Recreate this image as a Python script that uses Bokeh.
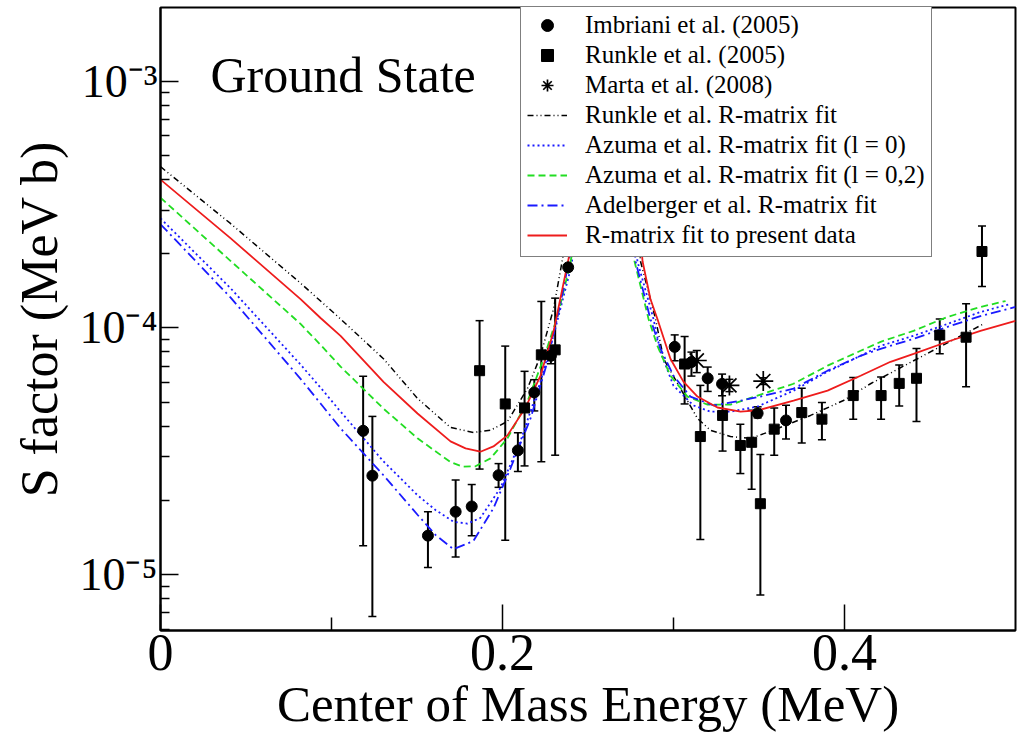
from bokeh.plotting import figure
from bokeh.models import (ColumnDataSource, Whisker, TeeHead, Label, Legend, LegendItem,
                          FixedTicker, CustomJSTickFormatter)
from bokeh.embed import file_html
from bokeh.resources import INLINE

# ---------------- data (energy in MeV, S factor in MeV b) ----------------
imb_e  = [0.1185, 0.1239, 0.1564, 0.1726, 0.1820, 0.1977, 0.2090, 0.2186, 0.2283, 0.2384,
          0.3007, 0.3105, 0.3200, 0.3284, 0.3492, 0.3658]
imb_s  = [3.83e-5, 2.52e-5, 1.44e-5, 1.80e-5, 1.89e-5, 2.53e-5, 3.19e-5, 5.48e-5, 7.71e-5, 1.76e-4,
          8.38e-5, 7.27e-5, 6.25e-5, 5.93e-5, 4.51e-5, 4.22e-5]
imb_lo = [1.31e-5, 6.78e-6, 1.07e-5, 1.18e-5, 1.44e-5, 2.26e-5, 2.62e-5, 4.61e-5, 7.16e-5, 1.70e-4,
          7.36e-5, 6.38e-5, 5.53e-5, 5.31e-5, 4.32e-5, 3.55e-5]
imb_hi = [6.37e-5, 4.38e-5, 1.80e-5, 2.42e-5, 2.32e-5, 2.82e-5, 3.76e-5, 6.17e-5, 8.23e-5, 1.82e-4,
          9.37e-5, 7.98e-5, 6.94e-5, 6.50e-5, 4.79e-5, 4.86e-5]

run_e  = [0.1866, 0.2016, 0.2129, 0.2227, 0.2308,
          0.3065, 0.3157, 0.3287, 0.3391, 0.3457, 0.3508, 0.3589, 0.3750, 0.3868, 0.4051,
          0.4214, 0.4320, 0.4421, 0.4557, 0.4711, 0.4804]
run_s  = [6.71e-5, 4.92e-5, 4.74e-5, 7.78e-5, 8.15e-5,
          7.14e-5, 3.63e-5, 4.42e-5, 3.34e-5, 3.44e-5, 1.94e-5, 3.89e-5, 4.54e-5, 4.27e-5, 5.32e-5,
          5.32e-5, 5.96e-5, 6.25e-5, 9.35e-5, 9.17e-5, 2.04e-4]
run_lo = [2.68e-5, 1.38e-5, 2.76e-5, 2.87e-5, 3.05e-5,
          4.92e-5, 1.39e-5, 3.17e-5, 2.57e-5, 2.22e-5, 8.28e-6, 3.05e-5, 3.42e-5, 3.52e-5, 4.27e-5,
          4.27e-5, 4.83e-5, 4.18e-5, 7.86e-5, 5.78e-5, 1.47e-4]
run_hi = [1.07e-4, 8.44e-5, 6.67e-5, 1.28e-4, 1.32e-4,
          9.23e-5, 5.85e-5, 5.89e-5, 4.07e-5, 4.64e-5, 3.07e-5, 4.74e-5, 5.69e-5, 4.99e-5, 6.29e-5,
          6.33e-5, 7.08e-5, 8.25e-5, 1.087e-4, 1.253e-4, 2.59e-4]

mar_e  = [0.3136, 0.3327, 0.3525]
mar_s  = [7.38e-5, 5.85e-5, 6.09e-5]
mar_lo = [6.59e-5, 5.52e-5, 5.90e-5]
mar_hi = [8.10e-5, 6.19e-5, 6.28e-5]

runfit_e = [0, 0.0409, 0.0819, 0.0936, 0.1053, 0.1304, 0.1503, 0.1696, 0.1830, 0.1930, 0.2029, 0.2146,
            0.2222, 0.2298, 0.2351, 0.2427, 0.26, 0.2807, 0.2895, 0.2942, 0.3041, 0.3140, 0.3216,
            0.3333, 0.3450, 0.3567, 0.3667, 0.3801, 0.3994, 0.4152, 0.4404, 0.4602, 0.4813]
runfit_s = [4.50e-4, 2.65e-4, 1.518e-4, 1.285e-4, 1.087e-4, 7.50e-5, 5.18e-5, 3.95e-5, 3.77e-5, 3.85e-5,
            4.18e-5, 5.68e-5, 7.71e-5, 1.19e-4, 1.90e-4, 4.0e-4, 1e-2, 1.862e-4, 1.087e-4, 7.50e-5,
            5.68e-5, 4.30e-5, 3.85e-5, 3.63e-5, 3.57e-5, 3.81e-5, 4.06e-5, 4.42e-5, 5.08e-5, 5.94e-5,
            7.36e-5, 8.70e-5, 1.038e-4]

az0_e = [0, 0.0409, 0.0819, 0.0936, 0.1053, 0.1304, 0.1503, 0.1608, 0.1713, 0.1795, 0.1871, 0.1988,
         0.2105, 0.2222, 0.2298, 0.2398, 0.2468, 0.26, 0.2789, 0.2883, 0.2924, 0.3000, 0.3117, 0.3216,
         0.3333, 0.3491, 0.3702, 0.3901, 0.4094, 0.4211, 0.4404, 0.4602, 0.4795, 0.4971]
az0_s = [2.78e-4, 1.45e-4, 7.10e-5, 5.73e-5, 4.58e-5, 2.88e-5, 2.10e-5, 1.83e-5, 1.64e-5, 1.61e-5,
         1.70e-5, 2.25e-5, 3.47e-5, 6.06e-5, 9.29e-5, 1.73e-4, 3.31e-4, 1e-2, 1.862e-4, 1.087e-4,
         8.00e-5, 5.83e-5, 4.85e-5, 4.58e-5, 4.58e-5, 4.80e-5, 5.57e-5, 6.65e-5, 7.71e-5, 8.46e-5,
         9.29e-5, 1.038e-4, 1.160e-4, 1.250e-4]

az02_e = [0, 0.0409, 0.0819, 0.0936, 0.1053, 0.1304, 0.1503, 0.1696, 0.1766, 0.1842, 0.1930, 0.2029,
          0.2146, 0.2240, 0.2322, 0.2398, 0.2468, 0.26, 0.2772, 0.2854, 0.2906, 0.2982, 0.3082, 0.3199,
          0.3333, 0.3509, 0.3702, 0.3901, 0.4094, 0.4211, 0.4404, 0.4602, 0.4795, 0.4942]
az02_s = [3.37e-4, 1.87e-4, 1.038e-4, 8.54e-5, 6.97e-5, 4.71e-5, 3.57e-5, 2.86e-5, 2.74e-5, 2.75e-5,
          2.96e-5, 3.57e-5, 5.04e-5, 7.50e-5, 1.117e-4, 1.845e-4, 3.63e-4, 1e-2, 1.862e-4, 1.087e-4,
          8.46e-5, 6.40e-5, 5.27e-5, 4.89e-5, 4.89e-5, 5.37e-5, 5.94e-5, 7.03e-5, 8.08e-5, 8.78e-5,
          9.73e-5, 1.108e-4, 1.216e-4, 1.285e-4]

adel_e = [0, 0.0409, 0.0819, 0.0936, 0.1053, 0.1304, 0.1503, 0.1608, 0.1713, 0.1830, 0.1947, 0.2047,
          0.2164, 0.2263, 0.2357, 0.2444, 0.26, 0.2778, 0.2865, 0.2924, 0.3000, 0.3099, 0.3234, 0.3374,
          0.3509, 0.3702, 0.3901, 0.4094, 0.4211, 0.4404, 0.4602, 0.4795, 0.5]
adel_s = [2.63e-4, 1.33e-4, 6.22e-5, 4.94e-5, 3.92e-5, 2.53e-5, 1.75e-5, 1.45e-5, 1.27e-5, 1.37e-5,
          1.86e-5, 2.70e-5, 4.30e-5, 7.30e-5, 1.44e-4, 3.02e-4, 1e-2, 1.862e-4, 1.087e-4, 8.23e-5,
          6.40e-5, 5.27e-5, 4.85e-5, 5.04e-5, 5.27e-5, 5.68e-5, 6.71e-5, 7.71e-5, 8.23e-5, 9.03e-5,
          1.009e-4, 1.117e-4, 1.216e-4]

pres_e = [0, 0.0409, 0.0819, 0.0936, 0.1053, 0.1304, 0.1503, 0.1696, 0.1784, 0.1871, 0.1947, 0.2029,
          0.2135, 0.2222, 0.2298, 0.2386, 0.2456, 0.26, 0.2819, 0.2865, 0.2906, 0.2982, 0.3058, 0.3140,
          0.3257, 0.3392, 0.3491, 0.3702, 0.3901, 0.4094, 0.4269, 0.4404, 0.4602, 0.4795, 0.5]
pres_s = [3.99e-4, 2.31e-4, 1.309e-4, 1.097e-4, 9.29e-5, 6.05e-5, 4.50e-5, 3.47e-5, 3.25e-5, 3.15e-5,
          3.31e-5, 3.67e-5, 4.76e-5, 6.40e-5, 9.64e-5, 1.90e-4, 3.63e-4, 1e-2, 1.862e-4, 1.309e-4,
          1.087e-4, 7.50e-5, 6.06e-5, 5.27e-5, 4.76e-5, 4.58e-5, 4.63e-5, 5.08e-5, 5.57e-5, 6.40e-5,
          7.29e-5, 7.85e-5, 8.79e-5, 9.73e-5, 1.067e-4]

x_major = [0, 0.2, 0.4]
x_minor = [0.1, 0.3]
y_major = [1e-5, 1e-4, 1e-3]
y_minor = [6e-6, 7e-6, 8e-6, 9e-6] + [k * 1e-5 for k in range(2, 10)] + [k * 1e-4 for k in range(2, 10)]

SERIF = "Liberation Serif"

# ---------------- figure ----------------
p = figure(width=1019, height=734, x_range=(0, 0.5), y_range=(5.944e-6, 1.987e-3),
           y_axis_type="log", output_backend="svg", toolbar_location=None,
           min_border_left=160, min_border_right=4, min_border_top=7, min_border_bottom=101,
           background_fill_color="white", border_fill_color="white")
p.grid.visible = False
p.outline_line_color = "black"
p.outline_line_width = 2
p.outline_line_alpha = 1

xa = p.xaxis[0]
xa.ticker = FixedTicker(ticks=x_major, minor_ticks=x_minor)
xa.formatter = CustomJSTickFormatter(code="return tick == 0 ? '0' : tick.toFixed(1);")
xa.major_tick_in = 26
xa.major_tick_out = 0
xa.minor_tick_in = 13
xa.minor_tick_out = 0
xa.axis_line_width = 2
xa.major_tick_line_width = 1.5
xa.minor_tick_line_width = 1.5
xa.major_label_text_font = SERIF
xa.major_label_text_font_size = "52px"
xa.major_label_text_color = "black"
xa.major_label_standoff = 4
xa.axis_label = "Center of Mass Energy (MeV)"
xa.axis_label_text_font = SERIF
xa.axis_label_text_font_size = "51px"
xa.axis_label_text_font_style = "normal"
xa.axis_label_text_color = "black"
xa.axis_label_standoff = 3

ya = p.yaxis[0]
ya.ticker = FixedTicker(ticks=y_major, minor_ticks=y_minor)
ya.formatter = CustomJSTickFormatter(code="""
const sup = {'-': '\u207b', '0': '\u2070', '1': '\u00b9', '2': '\u00b2', '3': '\u00b3',
             '4': '\u2074', '5': '\u2075', '6': '\u2076', '7': '\u2077', '8': '\u2078', '9': '\u2079'};
const e = Math.round(Math.log10(tick));
return '10' + String(e).split('').map(c => sup[c]).join('');
""")
ya.major_tick_in = 18
ya.major_tick_out = 0
ya.minor_tick_in = 9
ya.minor_tick_out = 0
ya.axis_line_width = 2
ya.major_tick_line_width = 1.5
ya.minor_tick_line_width = 1.5
ya.major_label_text_font = SERIF
ya.major_label_text_font_size = "46px"
ya.major_label_text_color = "black"
ya.major_label_standoff = 3
ya.axis_label = "S factor (MeV b)"
ya.axis_label_text_font = SERIF
ya.axis_label_text_font_size = "52px"
ya.axis_label_text_font_style = "normal"
ya.axis_label_text_color = "black"
ya.axis_label_standoff = 8

# ---------------- curves ----------------
r_runfit = p.line(runfit_e, runfit_s, line_color="black", line_width=1.5, line_dash="6 3 1 3 1 3")
r_az0 = p.line(az0_e, az0_s, line_color="#1a1aff", line_width=1.8, line_dash="2 3")
r_az02 = p.line(az02_e, az02_s, line_color="#22dd22", line_width=1.8, line_dash="7 4")
r_adel = p.line(adel_e, adel_s, line_color="#1a1aff", line_width=1.8, line_dash="10 4 2 4")
r_pres = p.line(pres_e, pres_s, line_color="#ee1c1c", line_width=1.8)

# ---------------- data with error bars ----------------
def add_whisker(e, lo, hi):
    src = ColumnDataSource(dict(x=e, lower=lo, upper=hi))
    w = Whisker(source=src, base="x", lower="lower", upper="upper", dimension="height",
                line_color="black", line_width=2,
                upper_head=TeeHead(size=8, line_width=1.5, line_color="black"),
                lower_head=TeeHead(size=8, line_width=1.5, line_color="black"))
    p.add_layout(w)

add_whisker(imb_e, imb_lo, imb_hi)
add_whisker(run_e, run_lo, run_hi)
add_whisker(mar_e, mar_lo, mar_hi)

r_imb = p.scatter(imb_e, imb_s, marker="circle", size=11, fill_color="black", line_color="black")
r_run = p.scatter(run_e, run_s, marker="square", size=10, fill_color="black", line_color="black")
r_mar = p.scatter(mar_e, mar_s, marker="asterisk", size=20, line_color="black", line_width=1.7)

# ---------------- legend ----------------
legend = Legend(items=[
    LegendItem(label="Imbriani et al. (2005)", renderers=[r_imb]),
    LegendItem(label="Runkle et al. (2005)", renderers=[r_run]),
    LegendItem(label="Marta et al. (2008)", renderers=[r_mar]),
    LegendItem(label="Runkle et al. R-matrix fit", renderers=[r_runfit]),
    LegendItem(label="Azuma et al. R-matrix fit (l = 0)", renderers=[r_az0]),
    LegendItem(label="Azuma et al. R-matrix fit (l = 0,2)", renderers=[r_az02]),
    LegendItem(label="Adelberger et al. R-matrix fit", renderers=[r_adel]),
    LegendItem(label="R-matrix fit to present data", renderers=[r_pres]),
], location=(360, 373))
legend.margin = 0
legend.padding = 6
legend.spacing = 0
legend.glyph_width = 40
legend.glyph_height = 30
legend.label_height = 30
legend.label_standoff = 18
legend.label_text_font = SERIF
legend.label_text_font_size = "25px"
legend.label_text_color = "black"
legend.border_line_color = "black"
legend.border_line_width = 1.5
legend.background_fill_color = "white"
legend.background_fill_alpha = 1
p.add_layout(legend)

# ---------------- in-frame title ----------------
p.add_layout(Label(x=50, x_units="screen", y=556, y_units="screen",
                   text="Ground State", text_align="left", text_baseline="alphabetic",
                   text_font=SERIF, text_font_size="50px", text_color="black"))

open("out.html", "w").write(file_html(p, INLINE))
